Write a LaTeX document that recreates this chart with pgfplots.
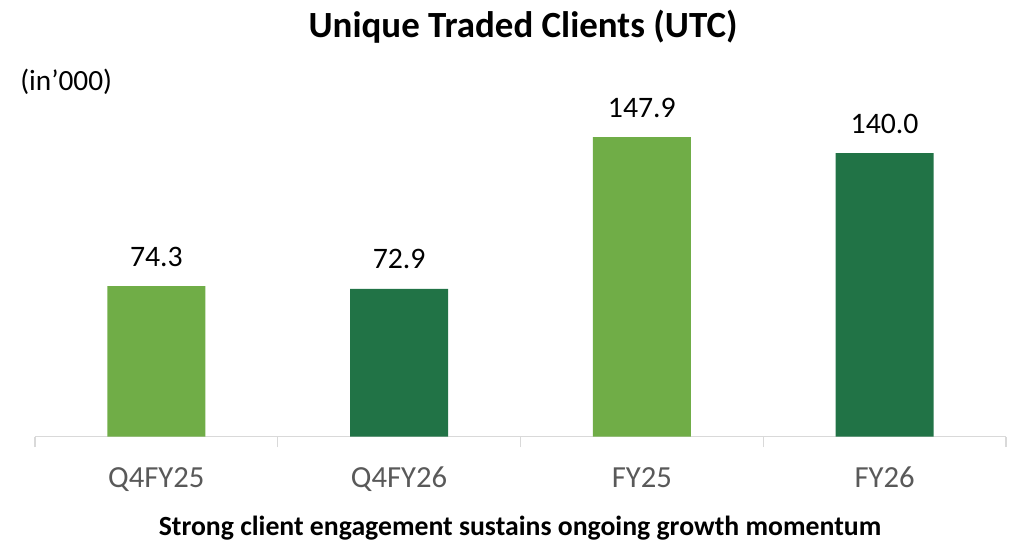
\documentclass[border=0pt]{standalone}
\usepackage{fontspec}
\setmainfont{Carlito}
\usepackage{pgfplots}
\pgfplotsset{compat=1.18}
\definecolor{lightg}{HTML}{70AD47}
\definecolor{darkg}{HTML}{217346}
\definecolor{axisgrey}{HTML}{D9D9D9}
\definecolor{ticktext}{HTML}{595959}
\begin{document}
\begin{tikzpicture}
\useasboundingbox (0,0) rectangle (768.75pt,408pt);
\begin{axis}[
  at={(26.25pt,80.625pt)}, anchor=south west,
  scale only axis, width=728.25pt, height=252.375pt,
  xmin=-0.5, xmax=3.5, ymin=0, ymax=166.3,
  axis x line*=bottom, axis y line=none, ytick=\empty,
  axis line style={draw=axisgrey, line width=1.1pt},
  xtick={0,1,2,3}, xticklabels={Q4FY25,Q4FY26,FY25,FY26},
  major tick length=0pt,
  minor xtick={-0.5,0.5,1.5,2.5,3.5},
  minor tick length=8pt,
  tick align=outside,
  every minor tick/.append style={draw=axisgrey, line width=1.1pt},
  xticklabel style={font=\fontsize{23pt}{27pt}\selectfont, text=ticktext, anchor=base, yshift=-38.6pt},
  /pgf/number format/assume math mode=true,
  ybar, bar width=0.404, bar shift=0pt,
  nodes near coords={\pgfmathprintnumber[fixed,fixed zerofill,precision=1]{\pgfplotspointmeta}},
  every node near coord/.append style={font=\fontsize{22.3pt}{26pt}\selectfont, text=black, anchor=base, yshift=15pt},
  clip=false,
]
\addplot[fill=lightg, draw=none] coordinates {(0,74.3) (2,147.9)};
\addplot[fill=darkg, draw=none] coordinates {(1,72.9) (3,140.0)};
\end{axis}
\node[anchor=base, font=\bfseries\fontsize{27.7pt}{32pt}\selectfont] at (392.25pt,379.5pt) {Unique Traded Clients (UTC)};
\node[anchor=base west, inner sep=0pt, font=\fontsize{22pt}{26pt}\selectfont] at (15pt,340.5pt) {(in’000)};
\node[anchor=base, font=\bfseries\fontsize{20.8pt}{24pt}\selectfont] at (390pt,6.75pt) {Strong client engagement sustains ongoing growth momentum};
\end{tikzpicture}
\end{document}
